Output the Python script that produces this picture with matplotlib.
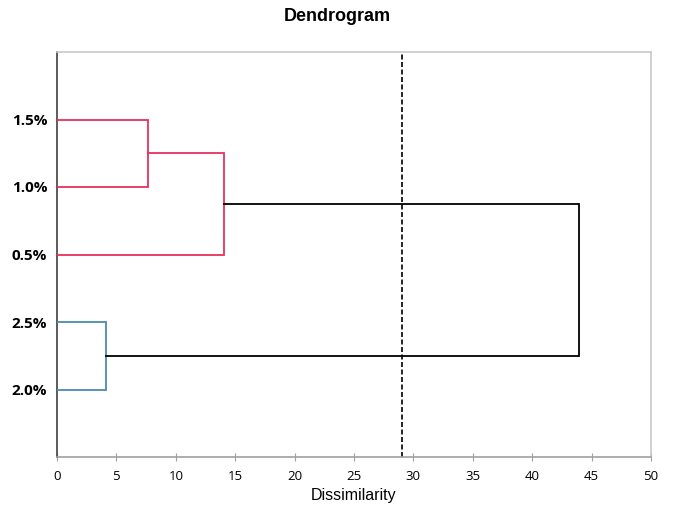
import matplotlib
matplotlib.use("Agg")
import matplotlib.pyplot as plt

# Leaves (bottom to top)
leaf_labels = ['2.0%', '2.5%', '0.5%', '1.0%', '1.5%']
# Merges: (left child, right child, dissimilarity); children indices: leaves 0..4, new clusters 5..
merge_left = [3, 0, 5, 6]
merge_right = [4, 1, 2, 7]
merge_height = [7.65, 4.15, 14.05, 43.9]
merge_color = ['#E8305E', '#4A8BAD', '#E8305E', '#000000']
threshold = 29.0

fig = plt.figure(figsize=(6.74, 5.13), dpi=100)
ax = fig.add_axes([57/674, 1-457/513, (651-57)/674, (457-52)/513])

pos = {i: i + 1 for i in range(len(leaf_labels))}
hgt = {i: 0.0 for i in range(len(leaf_labels))}
for k, (a, b, h, c) in enumerate(zip(merge_left, merge_right, merge_height, merge_color)):
    ya, yb = pos[a], pos[b]
    xa, xb = hgt[a], hgt[b]
    ax.plot([xa, h, h, xb], [ya, ya, yb, yb], color=c, lw=1.3, solid_joinstyle='miter', zorder=3)
    nid = len(leaf_labels) + k
    pos[nid] = (ya + yb) / 2
    hgt[nid] = h

ax.axvline(threshold, color='black', lw=1.2, ls=(0, (3, 1.5)), zorder=2)

ax.set_xlim(0, 50)
ax.set_ylim(0, 6)
ax.set_xticks(range(0, 51, 5))
ax.set_yticks(range(1, len(leaf_labels) + 1))
ax.set_yticklabels(leaf_labels, fontweight='bold', fontsize=11, family='Open Sans')
for lbl in ax.get_xticklabels():
    lbl.set_family('Open Sans')
    lbl.set_fontsize(9.5)

ax.tick_params(axis='y', length=0, pad=7)
ax.tick_params(axis='x', direction='inout', length=6, color='#A0A0A0', pad=6)
for s in ['top', 'right', 'bottom']:
    ax.spines[s].set_color('#C8C8C8')
    ax.spines[s].set_linewidth(1.2)
ax.spines['bottom'].set_color('#A0A0A0')
ax.spines['left'].set_color('#404040')
ax.spines['left'].set_linewidth(1.2)

ax.set_xlabel('Dissimilarity', family='Liberation Sans', fontsize=11.5, labelpad=4)
fig.suptitle('Dendrogram', family='Liberation Sans', fontweight='bold', fontsize=13, y=0.985)

fig.savefig('out.png', dpi=100)
